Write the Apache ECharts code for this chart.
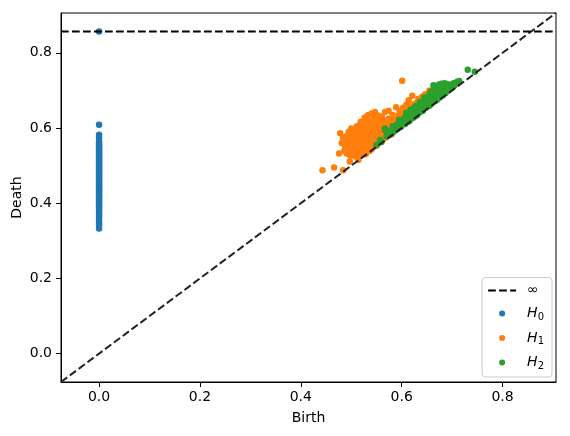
<!DOCTYPE html>
<html>
<head>
<meta charset="utf-8">
<script src="https://cdn.jsdelivr.net/npm/echarts@6/dist/echarts.min.js"></script>
<style>
  html, body { margin: 0; padding: 0; background: #fff; }
  #chart { width: 570px; height: 436px; }
</style>
</head>
<body>
<div id="chart"></div>
<script>
// H0: all births are 0, deaths listed (Infinity = the essential class)
const h0Deaths = [Infinity, 0.609, 0.582, 0.575, 0.564, 0.560, 0.557, 0.552, 0.548, 0.544, 0.540,
  0.537, 0.533, 0.529, 0.526, 0.522, 0.519, 0.515, 0.512, 0.508, 0.504, 0.500, 0.497, 0.494,
  0.490, 0.487, 0.483, 0.480, 0.476, 0.473, 0.469, 0.466, 0.462, 0.459, 0.454, 0.451, 0.447,
  0.444, 0.440, 0.437, 0.433, 0.430, 0.426, 0.422, 0.419, 0.415, 0.411, 0.406, 0.402, 0.398,
  0.394, 0.390, 0.385, 0.380, 0.374, 0.368, 0.362, 0.354, 0.347, 0.342, 0.333];

// H1 [birth, death]
const h1Pairs = [
  [0.443,0.488],[0.466,0.495],[0.484,0.488],[0.476,0.532],[0.491,0.532],[0.481,0.560],[0.496,0.560],
  [0.484,0.573],[0.478,0.586],[0.500,0.599],[0.518,0.611],[0.540,0.639],[0.540,0.617],[0.561,0.626],
  [0.547,0.643],[0.567,0.643],[0.596,0.646],[0.543,0.621],[0.601,0.726],[0.621,0.686],[0.655,0.700],
  [0.630,0.667],[0.497,0.511],[0.508,0.524],[0.514,0.515],[0.589,0.655],[0.609,0.662],[0.614,0.674],
  [0.605,0.641],[0.582,0.635],[0.574,0.646],
  [0.502,0.543],[0.505,0.557],[0.509,0.570],[0.511,0.532],[0.513,0.582],[0.515,0.549],[0.517,0.564],
  [0.519,0.596],[0.520,0.538],[0.522,0.575],[0.524,0.557],[0.525,0.588],[0.527,0.604],[0.528,0.544],
  [0.530,0.569],[0.531,0.581],[0.533,0.552],[0.534,0.594],[0.536,0.539],[0.537,0.565],[0.538,0.611],
  [0.539,0.578],[0.541,0.557],[0.542,0.590],[0.544,0.549],[0.545,0.601],[0.546,0.569],[0.548,0.583],
  [0.549,0.560],[0.551,0.595],[0.552,0.574],[0.553,0.613],[0.556,0.565],[0.557,0.587],[0.559,0.605],
  [0.560,0.578],[0.562,0.569],[0.563,0.597],[0.565,0.617],[0.566,0.582],[0.568,0.574],[0.569,0.609],
  [0.571,0.592],[0.572,0.581],[0.574,0.625],[0.575,0.603],[0.577,0.588],[0.579,0.614],[0.581,0.597],
  [0.583,0.623],[0.585,0.607],[0.588,0.616],[0.591,0.628],[0.594,0.635],[0.597,0.625],
  [0.498,0.526],[0.503,0.535],[0.508,0.548],[0.512,0.561],[0.516,0.573],[0.521,0.551],[0.526,0.562],
  [0.529,0.531],[0.532,0.608],[0.535,0.573],[0.540,0.543],[0.543,0.581],[0.547,0.606],[0.550,0.553],
  [0.555,0.597],[0.558,0.562],[0.561,0.615],[0.564,0.587],[0.567,0.600],[0.570,0.579],[0.573,0.613],
  [0.576,0.595],[0.580,0.583],[0.584,0.592],[0.587,0.601],[0.488,0.551],[0.493,0.546],[0.495,0.569],
  [0.490,0.578],[0.486,0.539],[0.501,0.582],[0.505,0.592],[0.511,0.605],[0.523,0.618],[0.529,0.625],
  [0.535,0.619],[0.546,0.628],[0.552,0.634],[0.560,0.631],[0.516,0.526],[0.523,0.529],[0.537,0.551],
  [0.544,0.564],[0.549,0.573],[0.556,0.580],[0.563,0.584],[0.569,0.589],[0.574,0.594],[0.578,0.605],
  [0.582,0.611],[0.590,0.611],[0.594,0.618],[0.600,0.631],[0.607,0.635],[0.613,0.652],[0.619,0.658],
  [0.625,0.664],[0.603,0.654],[0.633,0.678],[0.641,0.684],[0.638,0.674],[0.647,0.690],
  [0.504,0.553],[0.507,0.566],[0.510,0.579],[0.513,0.541],[0.516,0.590],[0.518,0.556],[0.521,0.567],
  [0.523,0.584],[0.526,0.547],[0.528,0.598],[0.531,0.560],[0.533,0.571],[0.536,0.586],[0.538,0.600],
  [0.540,0.566],[0.543,0.610],[0.545,0.577],[0.548,0.592],[0.550,0.605],[0.553,0.583],[0.555,0.620],
  [0.558,0.594],[0.561,0.606],[0.564,0.576],[0.567,0.618],[0.570,0.600],[0.573,0.587],[0.576,0.620],
  [0.579,0.606],[0.582,0.596],[0.585,0.630],[0.519,0.617],[0.527,0.628],[0.533,0.634],[0.495,0.590],
  [0.492,0.560],[0.498,0.575],[0.514,0.528],[0.531,0.545],[0.542,0.558]
];

// H2 [birth, death]
const h2Pairs = [
  [0.550,0.555],[0.557,0.568],[0.560,0.563],[0.567,0.594],[0.567,0.599],[0.570,0.578],[0.575,0.581],
  [0.578,0.592],[0.580,0.586],[0.584,0.590],[0.586,0.603],[0.588,0.595],[0.590,0.609],[0.592,0.598],
  [0.594,0.613],[0.596,0.605],[0.598,0.603],[0.599,0.618],[0.601,0.610],[0.604,0.625],[0.605,0.614],
  [0.607,0.611],[0.608,0.631],[0.610,0.620],[0.611,0.635],[0.613,0.617],[0.614,0.626],[0.616,0.640],
  [0.617,0.623],[0.619,0.632],[0.620,0.645],[0.622,0.627],[0.623,0.638],[0.625,0.651],[0.626,0.631],
  [0.628,0.642],[0.629,0.635],[0.631,0.655],[0.632,0.639],[0.634,0.646],[0.635,0.660],[0.637,0.643],
  [0.638,0.652],[0.640,0.665],[0.641,0.647],[0.643,0.657],[0.644,0.670],[0.646,0.653],[0.647,0.662],
  [0.649,0.676],[0.651,0.657],[0.653,0.667],[0.654,0.682],[0.656,0.662],[0.657,0.673],[0.658,0.697],
  [0.659,0.687],[0.660,0.666],[0.662,0.678],[0.663,0.714],[0.664,0.705],[0.665,0.692],[0.666,0.671],
  [0.668,0.683],[0.669,0.711],[0.670,0.699],[0.671,0.676],[0.673,0.688],[0.674,0.716],[0.675,0.705],
  [0.676,0.682],[0.678,0.694],[0.679,0.718],[0.681,0.710],[0.682,0.687],[0.684,0.701],[0.685,0.719],
  [0.687,0.693],[0.689,0.707],[0.690,0.717],[0.692,0.700],[0.694,0.712],[0.696,0.705],[0.699,0.716],
  [0.701,0.710],[0.703,0.719],[0.705,0.714],[0.708,0.721],[0.711,0.723],[0.714,0.725],[0.731,0.755],
  [0.745,0.750],[0.582,0.605],[0.595,0.622],[0.609,0.641],[0.618,0.649],[0.627,0.658],[0.636,0.669],
  [0.645,0.681],[0.655,0.690],[0.600,0.606],[0.615,0.619],[0.630,0.634],[0.642,0.646],[0.655,0.659],
  [0.667,0.674],[0.677,0.686]
];

const seriesNames = ['H0', 'H1', 'H2'];
const seriesColors = ['#1f77b4', '#ff7f0e', '#2ca02c'];
const tickValues = [0, 0.2, 0.4, 0.6, 0.8];

// diagram bounds, same rule as persim plot_diagrams
const h0Pairs = h0Deaths.map(d => [0, d]);
const finite = [].concat(h0Pairs, h1Pairs, h2Pairs).flat().filter(v => isFinite(v));
const axMin = Math.min(...finite);
const axMax = Math.max(...finite);
const buffer = (axMax - axMin) / 5;
const lo = axMin - buffer / 2;
const hi = axMax + buffer;
const infY = lo + (hi - lo) * 0.95;
const h0Data = h0Pairs.map(p => [p[0], isFinite(p[1]) ? p[1] : infY]);

const chart = echarts.init(document.getElementById('chart'));
const font = 'DejaVu Sans';
const dash = [7.7, 3.3];

const axisCommon = {
  type: 'value',
  min: lo,
  max: hi,
  splitLine: { show: false },
  axisLine: { show: true, onZero: false, lineStyle: { color: '#000', width: 1 } },
  axisTick: { show: true, length: 5, customValues: tickValues, lineStyle: { color: '#000' } },
  axisLabel: {
    customValues: tickValues,
    formatter: v => v.toFixed(1),
    color: '#000', fontFamily: font, fontSize: 14, margin: 8
  },
  nameLocation: 'middle',
  nameMoveOverlap: false,
  nameTextStyle: { color: '#000', fontFamily: font, fontSize: 14 }
};

const scatter = (i, data) => ({
  name: seriesNames[i],
  type: 'scatter',
  data: data,
  symbolSize: 6.5,
  itemStyle: { color: seriesColors[i], opacity: 1 },
  z: 2
});

chart.setOption({
  animation: false,
  grid: {
    left: 61, right: 14, top: 13, bottom: 54,
    outerBoundsMode: 'none',
    show: true, borderColor: '#000', borderWidth: 1
  },
  xAxis: Object.assign({}, axisCommon, { name: 'Birth', nameGap: 29 }),
  yAxis: Object.assign({}, axisCommon, {
    name: 'Death', nameGap: 37,
    axisLabel: Object.assign({}, axisCommon.axisLabel, { margin: 9 })
  }),
  legend: {
    orient: 'vertical',
    right: 18,
    bottom: 59,
    itemWidth: 28,
    itemHeight: 6,
    itemGap: 9,
    padding: [6, 8, 6, 5],
    borderColor: '#cccccc',
    borderWidth: 1,
    borderRadius: 3,
    backgroundColor: 'rgba(255,255,255,0.8)',
    data: [
      { name: '∞' },
      { name: 'H0', icon: 'circle' },
      { name: 'H1', icon: 'circle' },
      { name: 'H2', icon: 'circle' }
    ],
    formatter: name => name === '∞' ? '{n|∞}' : '{i|H}{s|' + name.slice(1) + '}',
    textStyle: {
      padding: [0, 0, 0, 6],
      rich: {
        n: { fontFamily: font, fontSize: 14, color: '#000' },
        i: { fontFamily: font, fontSize: 14, fontStyle: 'italic', color: '#000' },
        s: { fontFamily: font, fontSize: 10, color: '#000', padding: [7, 0, 0, 0] }
      }
    }
  },
  series: [
    scatter(0, h0Data),
    scatter(1, h1Pairs),
    scatter(2, h2Pairs),
    {
      name: 'diag',
      type: 'line',
      data: [[lo, lo], [hi, hi]],
      symbol: 'none',
      lineStyle: { color: '#222', width: 2, type: dash },
      z: 5,
      silent: true
    },
    {
      name: '∞',
      type: 'line',
      data: [[lo, infY], [hi, infY]],
      symbol: 'none',
      itemStyle: { color: 'rgba(0,0,0,0)' },
      lineStyle: { color: '#000', width: 2, type: dash },
      z: 5,
      silent: true
    }
  ]
});
</script>
</body>
</html>
